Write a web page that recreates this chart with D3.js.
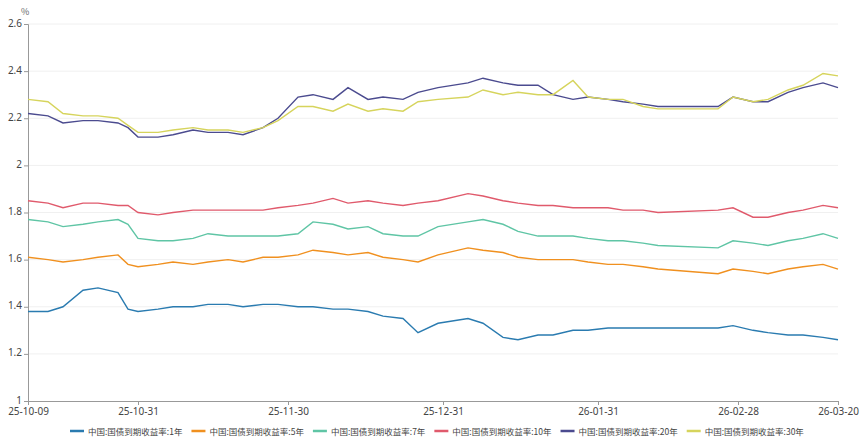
<!DOCTYPE html>
<html><head><meta charset="utf-8">
<script src="https://cdn.jsdelivr.net/npm/d3@7"></script>
<style>body{margin:0;background:#fff;font-family:"Noto Sans CJK SC","Noto Sans",sans-serif}</style>
</head><body><div id="chart"></div>
<script>
var dates = ["2025-10-09","2025-10-13","2025-10-16","2025-10-20","2025-10-23","2025-10-27","2025-10-29","2025-10-31",
  "2025-11-04","2025-11-07","2025-11-11","2025-11-14","2025-11-18","2025-11-21","2025-11-25","2025-11-28",
  "2025-12-02","2025-12-05","2025-12-09","2025-12-12","2025-12-16","2025-12-19","2025-12-23","2025-12-26","2025-12-30",
  "2026-01-05","2026-01-08","2026-01-12","2026-01-15","2026-01-19","2026-01-22","2026-01-26","2026-01-29",
  "2026-02-02","2026-02-05","2026-02-09","2026-02-12","2026-02-24","2026-02-27",
  "2026-03-03","2026-03-06","2026-03-10","2026-03-13","2026-03-17","2026-03-20"];
var y1 = [1.38,1.38,1.40,1.47,1.48,1.46,1.39,1.38,1.39,1.40,1.40,1.41,1.41,1.40,1.41,1.41,1.40,1.40,1.39,1.39,1.38,1.36,1.35,1.29,1.33,1.35,1.33,1.27,1.26,1.28,1.28,1.30,1.30,1.31,1.31,1.31,1.31,1.31,1.32,1.30,1.29,1.28,1.28,1.27,1.26];
var y5 = [1.61,1.60,1.59,1.60,1.61,1.62,1.58,1.57,1.58,1.59,1.58,1.59,1.60,1.59,1.61,1.61,1.62,1.64,1.63,1.62,1.63,1.61,1.60,1.59,1.62,1.65,1.64,1.63,1.61,1.60,1.60,1.60,1.59,1.58,1.58,1.57,1.56,1.54,1.56,1.55,1.54,1.56,1.57,1.58,1.56];
var y7 = [1.77,1.76,1.74,1.75,1.76,1.77,1.75,1.69,1.68,1.68,1.69,1.71,1.70,1.70,1.70,1.70,1.71,1.76,1.75,1.73,1.74,1.71,1.70,1.70,1.74,1.76,1.77,1.75,1.72,1.70,1.70,1.70,1.69,1.68,1.68,1.67,1.66,1.65,1.68,1.67,1.66,1.68,1.69,1.71,1.69];
var y10 = [1.85,1.84,1.82,1.84,1.84,1.83,1.83,1.80,1.79,1.80,1.81,1.81,1.81,1.81,1.81,1.82,1.83,1.84,1.86,1.84,1.85,1.84,1.83,1.84,1.85,1.88,1.87,1.85,1.84,1.83,1.83,1.82,1.82,1.82,1.81,1.81,1.80,1.81,1.82,1.78,1.78,1.80,1.81,1.83,1.82];
var y20 = [2.22,2.21,2.18,2.19,2.19,2.18,2.16,2.12,2.12,2.13,2.15,2.14,2.14,2.13,2.16,2.20,2.29,2.30,2.28,2.33,2.28,2.29,2.28,2.31,2.33,2.35,2.37,2.35,2.34,2.34,2.30,2.28,2.29,2.28,2.27,2.26,2.25,2.25,2.29,2.27,2.27,2.31,2.33,2.35,2.33];
var y30 = [2.28,2.27,2.22,2.21,2.21,2.20,2.17,2.14,2.14,2.15,2.16,2.15,2.15,2.14,2.16,2.19,2.25,2.25,2.23,2.26,2.23,2.24,2.23,2.27,2.28,2.29,2.32,2.30,2.31,2.30,2.30,2.36,2.29,2.28,2.28,2.25,2.24,2.24,2.29,2.27,2.28,2.32,2.34,2.39,2.38];
var names = ["中国:国债到期收益率:1年","中国:国债到期收益率:5年","中国:国债到期收益率:7年","中国:国债到期收益率:10年","中国:国债到期收益率:20年","中国:国债到期收益率:30年"];
var colors = ["#2a7bb0","#f0901f","#5fc5a5","#e05a6c","#4b4b8f","#d6d45c"];
var tickDates = ["2025-10-09","2025-10-31","2025-11-30","2025-12-31","2026-01-31","2026-02-28","2026-03-20"];
var yTicks = [1,1.2,1.4,1.6,1.8,2,2.2,2.4,2.6];

var W = 865, H = 440, m = {top:24, right:27, bottom:39, left:28};
var parse = d3.timeParse("%Y-%m-%d"), fmt = d3.timeFormat("%y-%m-%d");
var series = [y1,y5,y7,y10,y20,y30];

var svg = d3.select("#chart").append("svg").attr("width", W).attr("height", H);
var x = d3.scaleTime().domain([parse(dates[0]), parse(dates[dates.length-1])]).range([m.left, W - m.right]);
var y = d3.scaleLinear().domain([1, 2.6]).range([H - m.bottom, m.top]);

svg.append("g").selectAll("line").data(yTicks.slice(1)).enter().append("line")
  .attr("x1", m.left).attr("x2", W - m.right).attr("y1", y).attr("y2", y)
  .attr("stroke", "#f0f0f0");

var xa = svg.append("g").attr("transform", "translate(0," + (H - m.bottom) + ")")
  .call(d3.axisBottom(x).tickValues(tickDates.map(parse)).tickFormat(fmt).tickSize(4));
var ya = svg.append("g").attr("transform", "translate(" + m.left + ",0)")
  .call(d3.axisLeft(y).tickValues(yTicks).tickFormat(d3.format("~g")).tickSize(4).tickPadding(2));
[xa, ya].forEach(function(a) {
  a.selectAll("path,line").attr("stroke", "#999");
  a.selectAll("text").attr("fill", "#444").style("font-size", "10px").style("font-family", "Noto Sans, sans-serif");
});
ya.selectAll("text").attr("dy", "0.2em");
svg.append("text").attr("x", 21).attr("y", 15).text("%").attr("fill", "#666").style("font-size", "9px");

var line = d3.line().x(function(d, i) { return x(parse(dates[i])); }).y(function(d) { return y(d); });
series.forEach(function(s, k) {
  svg.append("path").datum(s).attr("d", line).attr("fill", "none")
    .attr("stroke", colors[k]).attr("stroke-width", 1.4);
});

var lg = svg.append("g").attr("transform", "translate(0," + (H - 9) + ")");
var lx = 70;
names.forEach(function(n, k) {
  lg.append("line").attr("x1", lx).attr("x2", lx + 14).attr("stroke", colors[k]).attr("stroke-width", 2.5);
  var t = lg.append("text").attr("x", lx + 18).attr("y", 3.5).text(n).attr("fill", "#444").style("font-size", "8.5px");
  lx += t.node().getComputedTextLength() + 27;
});
</script></body></html>
